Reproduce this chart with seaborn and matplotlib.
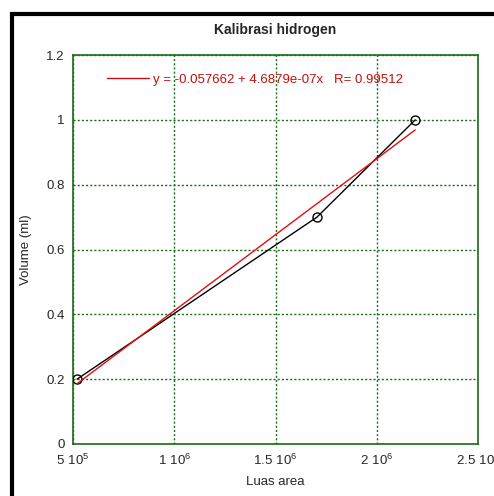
import numpy as np
import pandas as pd
import seaborn as sns
import matplotlib.pyplot as plt
from matplotlib.lines import Line2D

# data
luas_area = [5.2e5, 1.705e6, 2.19e6]
volume = [0.2, 0.7, 1.0]
fit_a = -0.057662
fit_b = 4.6879e-07
fit_r = 0.99512

xticks = [5e5, 1e6, 1.5e6, 2e6, 2.5e6]
xtick_labels = [r'$\mathregular{5\ 10^{5}}$', r'$\mathregular{1\ 10^{6}}$',
                r'$\mathregular{1.5\ 10^{6}}$', r'$\mathregular{2\ 10^{6}}$',
                r'$\mathregular{2.5\ 10^{6}}$']
yticks = [0, 0.2, 0.4, 0.6, 0.8, 1.0, 1.2]
ytick_labels = ['0', '0.2', '0.4', '0.6', '0.8', '1', '1.2']

df = pd.DataFrame({'x': luas_area, 'y': volume})
fit = pd.DataFrame({'x': [min(luas_area), max(luas_area)]})
fit['y'] = fit_a + fit_b * fit['x']

sns.set_style('white')
plt.rcParams['font.family'] = ['Liberation Sans', 'DejaVu Sans']
plt.rcParams['mathtext.fontset'] = 'custom'
plt.rcParams['mathtext.rm'] = 'Liberation Sans'

fig = plt.figure(figsize=(4.94, 4.96), dpi=100)
ax = fig.add_axes([73 / 494, 1 - 444 / 496, 405 / 494, 389 / 496])

green = '#1a6b1a'
sns.lineplot(data=df, x='x', y='y', ax=ax, color='black', lw=1, marker='o',
             markersize=6.5, markerfacecolor='none', markeredgecolor='black',
             markeredgewidth=1, zorder=3)
sns.lineplot(data=fit, x='x', y='y', ax=ax, color='#e01010', lw=1, zorder=4)

ax.set_xlim(5e5, 2.5e6)
ax.set_ylim(0, 1.2)
ax.set_xticks(xticks)
ax.set_xticklabels(xtick_labels)
ax.set_yticks(yticks)
ax.set_yticklabels(ytick_labels)
ax.tick_params(length=0, labelsize=9.5, pad=6)
ax.grid(True, color=green, linestyle=(0, (1.5, 1.5)), lw=1)
for s in ax.spines.values():
    s.set_color(green)
    s.set_linewidth(1.2)

ax.set_xlabel('Luas area', fontsize=9.5, labelpad=6)
ax.set_ylabel('Volume (ml)', fontsize=9.5, labelpad=10)
ax.set_title('Kalibrasi hidrogen', fontsize=10, fontweight='bold', pad=15)

h = Line2D([], [], color='#c01010', lw=1)
leg = ax.legend([h], ['y = -0.057662 + 4.6879e-07x   R= %.5f' % fit_r],
                loc='center left', bbox_to_anchor=(0.055, 0.936), frameon=False,
                fontsize=9.5, handlelength=3.2, handletextpad=0.3)
for t in leg.get_texts():
    t.set_color('#c01010')

# black frame around the graph
fig.add_artist(Line2D([12 / 494, 12 / 494], [0, 1 - 12 / 496], color='black', lw=3,
                      solid_capstyle='butt', transform=fig.transFigure))
fig.add_artist(Line2D([10.5 / 494, 1], [1 - 13.5 / 496, 1 - 13.5 / 496], color='black', lw=3,
                      solid_capstyle='butt', transform=fig.transFigure))

plt.savefig('out.png', dpi=100)
